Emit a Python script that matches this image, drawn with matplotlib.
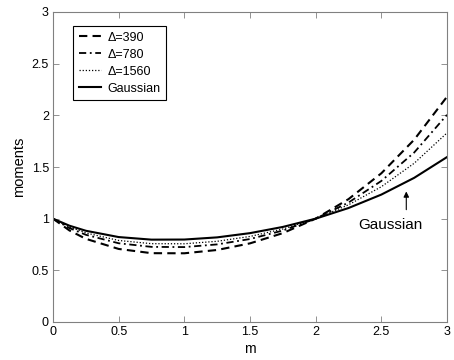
import matplotlib
matplotlib.use("Agg")
import matplotlib.pyplot as plt

plt.rcParams['font.family'] = ['Liberation Sans', 'DejaVu Sans']

m = [0, 0.125, 0.25, 0.5, 0.75, 1.0, 1.25, 1.5, 1.75, 2.0, 2.25, 2.5, 2.75, 3.0]
d390 = [1.0, 0.886, 0.805, 0.707, 0.666, 0.665, 0.697, 0.761, 0.860, 1.0, 1.189, 1.439, 1.764, 2.180]
d780 = [1.0, 0.909, 0.844, 0.762, 0.727, 0.725, 0.751, 0.803, 0.885, 1.0, 1.156, 1.365, 1.640, 2.005]
d1560 = [1.0, 0.920, 0.862, 0.789, 0.758, 0.757, 0.781, 0.828, 0.900, 1.0, 1.134, 1.309, 1.536, 1.830]
gauss = [1.0, 0.932, 0.883, 0.822, 0.797, 0.798, 0.819, 0.860, 0.920, 1.0, 1.103, 1.233, 1.395, 1.596]

labels = ['Δ=390', 'Δ=780', 'Δ=1560', 'Gaussian']
xticks = [0, 0.5, 1, 1.5, 2, 2.5, 3]
yticks = [0, 0.5, 1, 1.5, 2, 2.5, 3]

fig = plt.figure(figsize=(4.54, 3.6), dpi=100)
ax = fig.add_axes([53/454, 38/360, 394/454, 310/360])

ax.plot(m, d390, color='black', linestyle=(0, (4, 2.5)), lw=1.5, label=labels[0])
ax.plot(m, d780, color='black', linestyle=(0, (4, 2, 1, 2)), lw=1.3, label=labels[1])
ax.plot(m, d1560, color='black', linestyle=(0, (1, 1.5)), lw=0.9, label=labels[2])
ax.plot(m, gauss, color='black', linestyle='-', lw=1.5, label=labels[3])

ax.set_xlim(0, 3)
ax.set_ylim(0, 3)
ax.set_xticks(xticks)
ax.set_yticks(yticks)
ax.set_xticklabels([f'{t:g}' for t in xticks])
ax.set_yticklabels([f'{t:g}' for t in yticks])
ax.tick_params(direction='in', length=4, width=0.6, color='#808080',
               top=True, right=True, labelsize=9, pad=3)
for sp in ax.spines.values():
    sp.set_color('#808080')
    sp.set_linewidth(0.8)

ax.set_xlabel('m', fontsize=10, labelpad=3)
ax.set_ylabel('moments', fontsize=10.5, labelpad=4)

leg = ax.legend(loc='upper left', bbox_to_anchor=(0.035, 0.975), fontsize=9,
                handlelength=1.8, handletextpad=0.5, labelspacing=0.4,
                borderpad=0.45, fancybox=False, framealpha=1, edgecolor='black')
leg.get_frame().set_linewidth(0.8)

ax.annotate('', xy=(2.69, 1.29), xytext=(2.69, 1.06),
            arrowprops=dict(arrowstyle='-|>', color='black', lw=0.8,
                            mutation_scale=8))
ax.text(2.57, 0.94, 'Gaussian', ha='center', va='center', fontsize=11)

fig.savefig('out.png', dpi=100)
